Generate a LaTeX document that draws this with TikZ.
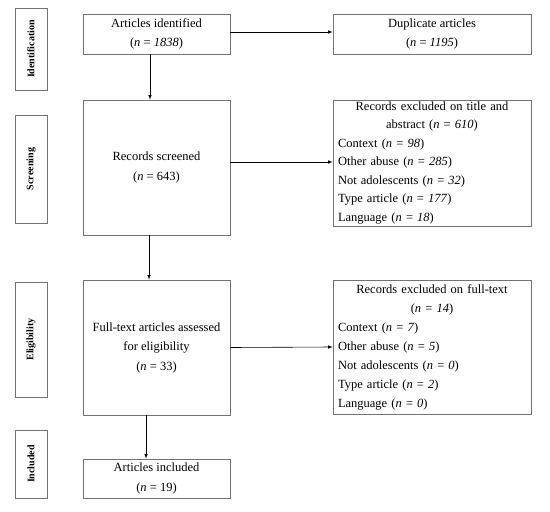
\documentclass[tikz,border=0pt]{standalone}
\usepackage{fontspec}
\setmainfont{Liberation Serif}
\usetikzlibrary{positioning}
\newcommand{\nit}[1]{(\textit{n} = \textit{#1})}
\newcommand{\nup}[1]{(\textit{n} = #1)}
\begin{document}
\begin{tikzpicture}[>=latex, line width=0.6pt, x=1pt, y=-1pt,
    box/.style={draw=black!55, inner sep=2pt, align=center, minimum width=147pt, font=\fontsize{12.5}{19.5}\selectfont},
    sidebox/.style={draw=black!55, inner xsep=5pt, inner ysep=2pt, minimum width=198pt, text width=188pt, font=\fontsize{12.5}{18.5}\selectfont},
    stage/.style={draw=black!55, rotate=90, inner sep=0pt, minimum height=32pt, font=\bfseries\fontsize{10}{11}\selectfont}]
    \useasboundingbox (0,0) rectangle (550,512);
    % stages
    \draw (31,49)node[stage, minimum width=82pt, name=S1]{Identification};
    \draw (31,169)node[stage, minimum width=108pt, name=S2]{Screening};
    \draw (31,339.5)node[stage, minimum width=115pt, name=S3]{Eligibility};
    \draw (31,464)node[stage, minimum width=68pt, name=S4]{Included};
    % main column
    \draw (156.5,34)node[box, minimum height=40pt, name=ID]{Articles identified\\ \nit{1838}};
    \draw (156.5,167.5)node[box, minimum height=135pt, name=SC]{Records screened\\ \nup{643}};
    \draw (156.5,347.5)node[box, minimum height=135pt, name=FT]{Full-text articles assessed\\ for eligibility\\ \nup{33}};
    \draw (156.5,478.5)node[box, minimum height=39pt, name=IN]{Articles included\\ \nup{19}};
    % excluded
    \draw (432,34)node[box, minimum width=198pt, minimum height=40pt, name=DU]{Duplicate articles\\ \nit{1195}};
    \draw (432,163)node[sidebox, minimum height=126pt, name=EX1]{{\centering Records excluded on title and\\ abstract \nit{610}\par}
        \raggedright Context \nit{98}\\ Other abuse \nit{285}\\ Not adolescents \nit{32}\\ Type article \nit{177}\\ Language \nit{18}};
    \draw (432,347)node[sidebox, minimum height=134pt, font=\fontsize{12.5}{19}\selectfont, name=EX2]{{\centering Records excluded on full-text\\ \nit{14}\par}
        \raggedright Context \nit{7}\\ Other abuse \nit{5}\\ Not adolescents \nit{0}\\ Type article \nit{2}\\ Language \nit{0}};
    % arrows
    \draw[->] ([xshift=-6.5pt]ID.south) -- ([xshift=-6.5pt]SC.north);
    \draw[->] ([xshift=-7.5pt]SC.south) -- ([xshift=-7.5pt]FT.north);
    \draw[->] ([xshift=-10.5pt]FT.south) -- ([xshift=-10.5pt]IN.north);
    \draw[->] ([yshift=2pt]ID.east) -- ([yshift=2pt]DU.west);
    \draw[->] ([yshift=5.5pt]SC.east) -- ([yshift=1pt]EX1.west);
    \draw[->] (FT.east) -- (EX2.west);
\end{tikzpicture}
\end{document}
